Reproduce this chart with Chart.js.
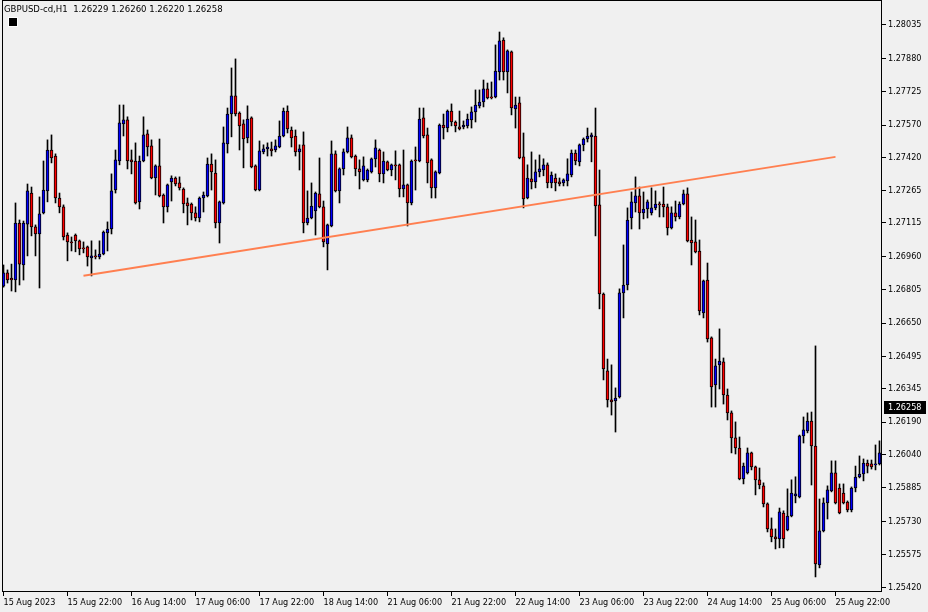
<!DOCTYPE html>
<html>
<head>
<meta charset="utf-8">
<script src="https://cdn.jsdelivr.net/npm/chart.js@4.4.0/dist/chart.umd.min.js"></script>
<style>
  html, body { margin: 0; padding: 0; background: #f0f0f0; }
  #wrap { width: 928px; height: 612px; }
</style>
</head>
<body>
<div id="wrap"><canvas id="chart" width="928" height="612"></canvas></div>
<script>
// GBPUSD-cd H1, one entry per hourly bar
const symbolTitle = "GBPUSD-cd,H1";
const quote = [1.26229, 1.26260, 1.26220, 1.26258];

const timeLabels = ["15 Aug 2023", "15 Aug 22:00", "16 Aug 14:00", "17 Aug 06:00", "17 Aug 22:00",
  "18 Aug 14:00", "21 Aug 06:00", "21 Aug 22:00", "22 Aug 14:00", "23 Aug 06:00", "23 Aug 22:00",
  "24 Aug 14:00", "25 Aug 06:00", "25 Aug 22:00"];
const labelBars = [0, 16, 32, 48, 64, 80, 96, 112, 128, 144, 160, 176, 192, 208];

const priceTicks = [1.28035, 1.27880, 1.27725, 1.27570, 1.27420, 1.27265, 1.27115, 1.26960, 1.26805,
  1.26650, 1.26495, 1.26345, 1.26190, 1.26040, 1.25885, 1.25730, 1.25575, 1.25420];

const opens = [
  1.26822, 1.26883, 1.26859, 1.26850, 1.27115, 1.26920, 1.27110, 1.27254, 1.27097, 1.27064,
  1.27162, 1.27264, 1.27454, 1.27426, 1.27231, 1.27190, 1.27059, 1.27027, 1.27059, 1.27032,
  1.26999, 1.27004, 1.26953, 1.26962, 1.26957, 1.26971, 1.27069, 1.27087, 1.27268, 1.27403,
  1.27575, 1.27594, 1.27408, 1.27403, 1.27213, 1.27403, 1.27529, 1.27473, 1.27324, 1.27380,
  1.27245, 1.27190, 1.27306, 1.27324, 1.27301, 1.27273, 1.27208, 1.27203, 1.27162, 1.27138,
  1.27231, 1.27241, 1.27389, 1.27347, 1.27115, 1.27208, 1.27482, 1.27621, 1.27705, 1.27626,
  1.27575, 1.27510, 1.27603, 1.27380, 1.27268, 1.27445, 1.27459, 1.27459, 1.27454, 1.27468,
  1.27519, 1.27635, 1.27547, 1.27519, 1.27445, 1.27478, 1.27115, 1.27138, 1.27171, 1.27250,
  1.27190, 1.27018, 1.27101, 1.27436, 1.27264, 1.27366, 1.27445, 1.27510, 1.27426, 1.27366,
  1.27315, 1.27315, 1.27352, 1.27413, 1.27454, 1.27343, 1.27399, 1.27361, 1.27385, 1.27385,
  1.27273, 1.27292, 1.27208, 1.27408, 1.27403, 1.27603, 1.27524, 1.27408, 1.27278, 1.27347,
  1.27570, 1.27556, 1.27635, 1.27584, 1.27561, 1.27561, 1.27566, 1.27594, 1.27631, 1.27659,
  1.27677, 1.27738, 1.27700, 1.27700, 1.27817, 1.27965, 1.27817, 1.27910, 1.27645, 1.27673,
  1.27422, 1.27231, 1.27320, 1.27306, 1.27352, 1.27361, 1.27385, 1.27301, 1.27324, 1.27306,
  1.27301, 1.27310, 1.27338, 1.27440, 1.27399, 1.27478, 1.27505, 1.27515, 1.27519, 1.27199,
  1.26785, 1.26428, 1.26293, 1.26288, 1.26307, 1.26790, 1.26827, 1.27138, 1.27208, 1.27241,
  1.27162, 1.27180, 1.27162, 1.27185, 1.27203, 1.27203, 1.27190, 1.27092, 1.27162, 1.27143,
  1.27203, 1.27250, 1.27036, 1.27027, 1.26985, 1.26697, 1.26850, 1.26581, 1.26363, 1.26456,
  1.26470, 1.26316, 1.26233, 1.26117, 1.26070, 1.25926, 1.25954, 1.26047, 1.25982, 1.25922,
  1.25894, 1.25810, 1.25694, 1.25657, 1.25647, 1.25768, 1.25689, 1.25754, 1.25847, 1.25843,
  1.26126, 1.26149, 1.26195, 1.26079, 1.25527, 1.25685, 1.25815, 1.25871, 1.25954, 1.25884,
  1.25861, 1.25819, 1.25782, 1.25884, 1.25935, 1.25949, 1.26000, 1.25996, 1.25991, 1.25996];

const highs = [
  1.26920, 1.26897, 1.26924, 1.27208, 1.27129, 1.27124, 1.27296, 1.27282, 1.27106, 1.27236,
  1.27403, 1.27501, 1.27524, 1.27436, 1.27254, 1.27199, 1.27069, 1.27050, 1.27064, 1.27036,
  1.27027, 1.27008, 1.27032, 1.26990, 1.27032, 1.27078, 1.27120, 1.27343, 1.27454, 1.27663,
  1.27663, 1.27608, 1.27454, 1.27487, 1.27426, 1.27608, 1.27547, 1.27501, 1.27385, 1.27505,
  1.27250, 1.27296, 1.27334, 1.27329, 1.27329, 1.27278, 1.27231, 1.27208, 1.27190, 1.27236,
  1.27259, 1.27417, 1.27436, 1.27408, 1.27217, 1.27561, 1.27649, 1.27835, 1.27877, 1.27631,
  1.27594, 1.27659, 1.27608, 1.27385, 1.27496, 1.27478, 1.27487, 1.27491, 1.27501, 1.27589,
  1.27649, 1.27659, 1.27561, 1.27547, 1.27478, 1.27538, 1.27264, 1.27301, 1.27259, 1.27417,
  1.27217, 1.27110, 1.27496, 1.27450, 1.27371, 1.27459, 1.27561, 1.27524, 1.27431, 1.27408,
  1.27422, 1.27366, 1.27417, 1.27501, 1.27459, 1.27445, 1.27403, 1.27389, 1.27450, 1.27389,
  1.27454, 1.27296, 1.27408, 1.27468, 1.27649, 1.27649, 1.27556, 1.27413, 1.27357, 1.27575,
  1.27621, 1.27640, 1.27668, 1.27589, 1.27635, 1.27589, 1.27621, 1.27654, 1.27733, 1.27733,
  1.27779, 1.27765, 1.27770, 1.27942, 1.28002, 1.27975, 1.27919, 1.27914, 1.27700, 1.27700,
  1.27533, 1.27385, 1.27445, 1.27408, 1.27431, 1.27413, 1.27394, 1.27352, 1.27343, 1.27324,
  1.27320, 1.27413, 1.27454, 1.27454, 1.27482, 1.27510, 1.27556, 1.27533, 1.27649, 1.27361,
  1.26790, 1.26483, 1.26456, 1.26349, 1.26809, 1.27013, 1.27185, 1.27259, 1.27329, 1.27282,
  1.27259, 1.27222, 1.27278, 1.27264, 1.27213, 1.27282, 1.27203, 1.27190, 1.27217, 1.27213,
  1.27268, 1.27278, 1.27143, 1.27129, 1.27036, 1.26850, 1.26929, 1.26586, 1.26483, 1.26623,
  1.26488, 1.26344, 1.26242, 1.26191, 1.26121, 1.26000, 1.26070, 1.26051, 1.25986, 1.25977,
  1.25908, 1.25815, 1.25745, 1.25694, 1.25791, 1.25778, 1.25880, 1.25922, 1.25936, 1.26130,
  1.26214, 1.26233, 1.26237, 1.26544, 1.25833, 1.25838, 1.25894, 1.26010, 1.26010, 1.25903,
  1.25903, 1.25824, 1.25889, 1.25986, 1.26033, 1.26019, 1.26014, 1.26014, 1.26084, 1.26103];

const lows = [
  1.26817, 1.26836, 1.26799, 1.26795, 1.26827, 1.26850, 1.26962, 1.27055, 1.26962, 1.26813,
  1.27157, 1.27213, 1.27394, 1.27208, 1.27162, 1.27036, 1.26939, 1.26985, 1.26981, 1.26967,
  1.26976, 1.26915, 1.26869, 1.26948, 1.26948, 1.26967, 1.26985, 1.27064, 1.27254, 1.27385,
  1.27519, 1.27366, 1.27343, 1.27203, 1.27180, 1.27399, 1.27426, 1.27320, 1.27245, 1.27236,
  1.27115, 1.27166, 1.27217, 1.27287, 1.27268, 1.27162, 1.27106, 1.27129, 1.27124, 1.27120,
  1.27166, 1.27236, 1.27268, 1.27092, 1.27022, 1.27203, 1.27440, 1.27515, 1.27612, 1.27454,
  1.27371, 1.27487, 1.27371, 1.27264, 1.27264, 1.27436, 1.27426, 1.27426, 1.27445, 1.27464,
  1.27515, 1.27533, 1.27468, 1.27426, 1.27361, 1.27069, 1.27106, 1.27134, 1.27059, 1.27185,
  1.27004, 1.26897, 1.27097, 1.27259, 1.27208, 1.27338, 1.27440, 1.27417, 1.27334, 1.27273,
  1.27310, 1.27306, 1.27347, 1.27375, 1.27306, 1.27301, 1.27357, 1.27334, 1.27315, 1.27236,
  1.27236, 1.27101, 1.27199, 1.27268, 1.27399, 1.27510, 1.27301, 1.27231, 1.27231, 1.27343,
  1.27505, 1.27538, 1.27566, 1.27538, 1.27547, 1.27552, 1.27556, 1.27556, 1.27584, 1.27649,
  1.27654, 1.27691, 1.27691, 1.27696, 1.27779, 1.27779, 1.27719, 1.27617, 1.27556, 1.27413,
  1.27185, 1.27227, 1.27273, 1.27278, 1.27329, 1.27334, 1.27278, 1.27278, 1.27264, 1.27287,
  1.27287, 1.27287, 1.27329, 1.27385, 1.27380, 1.27450, 1.27491, 1.27399, 1.27055, 1.26716,
  1.26386, 1.26260, 1.26223, 1.26144, 1.26302, 1.26674, 1.26804, 1.27087, 1.27166, 1.27087,
  1.27134, 1.27138, 1.27152, 1.27176, 1.27143, 1.27143, 1.27059, 1.27087, 1.27124, 1.27134,
  1.27199, 1.27027, 1.26920, 1.26976, 1.26688, 1.26674, 1.26562, 1.26260, 1.26260, 1.26344,
  1.26274, 1.26200, 1.26047, 1.26042, 1.25922, 1.25903, 1.25949, 1.25968, 1.25852, 1.25880,
  1.25796, 1.25680, 1.25634, 1.25601, 1.25606, 1.25606, 1.25685, 1.25750, 1.25815, 1.25838,
  1.26093, 1.26140, 1.25898, 1.25471, 1.25513, 1.25680, 1.25740, 1.25866, 1.25810, 1.25764,
  1.25810, 1.25773, 1.25773, 1.25866, 1.25931, 1.25917, 1.25954, 1.25972, 1.25968, 1.25991];

const closes = [
  1.26883, 1.26850, 1.26850, 1.27115, 1.26924, 1.27115, 1.27264, 1.27097, 1.27064, 1.27157,
  1.27268, 1.27454, 1.27417, 1.27231, 1.27190, 1.27050, 1.27027, 1.27022, 1.27032, 1.26995,
  1.26995, 1.26957, 1.26962, 1.26957, 1.26971, 1.27073, 1.27087, 1.27264, 1.27408, 1.27580,
  1.27594, 1.27403, 1.27399, 1.27208, 1.27403, 1.27524, 1.27468, 1.27324, 1.27380, 1.27241,
  1.27190, 1.27292, 1.27324, 1.27296, 1.27278, 1.27203, 1.27194, 1.27162, 1.27138, 1.27231,
  1.27245, 1.27389, 1.27352, 1.27115, 1.27213, 1.27487, 1.27621, 1.27705, 1.27621, 1.27566,
  1.27505, 1.27598, 1.27375, 1.27268, 1.27450, 1.27459, 1.27468, 1.27450, 1.27473, 1.27519,
  1.27635, 1.27552, 1.27510, 1.27445, 1.27459, 1.27115, 1.27138, 1.27194, 1.27254, 1.27190,
  1.27027, 1.27106, 1.27436, 1.27264, 1.27366, 1.27445, 1.27510, 1.27422, 1.27366, 1.27352,
  1.27380, 1.27361, 1.27413, 1.27464, 1.27343, 1.27403, 1.27361, 1.27385, 1.27380, 1.27273,
  1.27292, 1.27208, 1.27403, 1.27403, 1.27598, 1.27519, 1.27394, 1.27278, 1.27352, 1.27570,
  1.27556, 1.27635, 1.27584, 1.27566, 1.27552, 1.27570, 1.27598, 1.27631, 1.27663, 1.27677,
  1.27738, 1.27696, 1.27696, 1.27821, 1.27961, 1.27817, 1.27914, 1.27649, 1.27663, 1.27417,
  1.27227, 1.27324, 1.27306, 1.27352, 1.27366, 1.27385, 1.27301, 1.27338, 1.27301, 1.27296,
  1.27315, 1.27343, 1.27440, 1.27403, 1.27478, 1.27505, 1.27519, 1.27524, 1.27194, 1.26785,
  1.26437, 1.26293, 1.26284, 1.26302, 1.26790, 1.26827, 1.27129, 1.27213, 1.27241, 1.27162,
  1.27180, 1.27213, 1.27185, 1.27203, 1.27199, 1.27190, 1.27092, 1.27162, 1.27143, 1.27203,
  1.27250, 1.27032, 1.27022, 1.26981, 1.26707, 1.26846, 1.26576, 1.26353, 1.26451, 1.26474,
  1.26316, 1.26233, 1.26117, 1.26070, 1.25926, 1.25986, 1.26047, 1.25982, 1.25922, 1.25898,
  1.25810, 1.25694, 1.25657, 1.25647, 1.25773, 1.25647, 1.25754, 1.25861, 1.25857, 1.26126,
  1.26154, 1.26195, 1.26079, 1.25531, 1.25685, 1.25815, 1.25875, 1.25954, 1.25815, 1.25768,
  1.25815, 1.25782, 1.25884, 1.25935, 1.25949, 1.26000, 1.25986, 1.25982, 1.25996, 1.26047];

// trend line drawn on the chart (bar index, price)
const trendBars = [20, 208];
const trendPrices = [1.26870, 1.27422];

const FONT = "'DejaVu Sans Condensed', 'Liberation Sans', Arial, sans-serif";
Chart.defaults.font.family = FONT;
Chart.defaults.font.size = 9;
Chart.defaults.color = '#000';

const bars = opens.map((_, i) => i);
const wickData = bars.map(i => ({ x: i, y: [lows[i], highs[i]] }));
const bodyData = bars.map(i => ({ x: i, y: [opens[i], closes[i]] }));
const bodyColors = bars.map(i => closes[i] >= opens[i] ? '#0000ff' : '#ff0000');
const trendData = trendBars.map((b, i) => ({ x: b, y: trendPrices[i] }));

const decorations = {
  id: 'decorations',
  afterDraw(chart) {
    const { ctx, chartArea: a } = chart;
    ctx.save();
    // frame round the plot
    ctx.strokeStyle = '#000';
    ctx.lineWidth = 1;
    ctx.strokeRect(a.left + 0.5, a.top - 0.5, a.right - a.left - 1, a.bottom - a.top);

    // header text
    ctx.font = '9.5px ' + FONT;
    ctx.fillStyle = '#000';
    ctx.textBaseline = 'middle';
    ctx.fillText(symbolTitle + '  ' + quote.map(q => q.toFixed(5)).join(' '), 4, 10);

    // small square under the header
    ctx.fillStyle = '#ffffff';
    ctx.fillRect(8, 17, 10, 10);
    ctx.fillStyle = '#000';
    ctx.fillRect(9, 18, 8, 8);

    // current price box on the price scale
    const py = Math.round(chart.scales.y.getPixelForValue(quote[3]));
    ctx.font = '9px ' + FONT;
    ctx.fillStyle = '#000';
    ctx.fillRect(884, py - 6, 42, 13);
    ctx.fillStyle = '#fff';
    ctx.fillText(quote[3].toFixed(5), 888, py + 0.5);
    ctx.restore();
  }
};

new Chart(document.getElementById('chart'), {
  type: 'bar',
  data: {
    datasets: [
      {
        type: 'line',
        label: 'trend',
        data: trendData,
        borderColor: '#ff7f50',
        borderWidth: 2,
        pointRadius: 0,
        tension: 0,
        order: 0
      },
      {
        label: 'body',
        data: bodyData,
        backgroundColor: bodyColors,
        borderColor: '#000',
        borderWidth: 1,
        borderSkipped: false,
        barThickness: 3,
        minBarLength: 1,
        grouped: false,
        order: 1
      },
      {
        label: 'wick',
        data: wickData,
        backgroundColor: '#000',
        borderWidth: 0,
        barThickness: 1,
        grouped: false,
        order: 2
      }
    ]
  },
  options: {
    responsive: false,
    animation: false,
    layout: { padding: { left: 2, top: 1, right: 0, bottom: 0 } },
    plugins: { legend: { display: false }, tooltip: { enabled: false } },
    scales: {
      x: {
        type: 'linear',
        min: -0.375,
        max: 219.625,
        offset: false,
        afterBuildTicks: s => { s.ticks = labelBars.map(v => ({ value: v })); },
        afterFit: s => { s.height = 20; s.paddingLeft = 0; s.paddingRight = 0; },
        ticks: {
          align: 'start',
          maxRotation: 0,
          autoSkip: false,
          padding: 1,
          callback: (v, i) => timeLabels[i]
        },
        grid: { drawOnChartArea: false, offset: false, tickLength: 4, color: '#000' },
        border: { display: false }
      },
      y: {
        position: 'right',
        min: 1.25401,
        max: 1.28146,
        afterBuildTicks: s => { s.ticks = priceTicks.map(v => ({ value: v })); },
        afterFit: s => { s.width = 46; s.paddingTop = 0; s.paddingBottom = 0; },
        ticks: { padding: 2, autoSkip: false, callback: v => v.toFixed(5) },
        grid: { drawOnChartArea: false, tickLength: 4, color: '#000' },
        border: { display: false }
      }
    }
  },
  plugins: [decorations]
});
</script>
</body>
</html>
